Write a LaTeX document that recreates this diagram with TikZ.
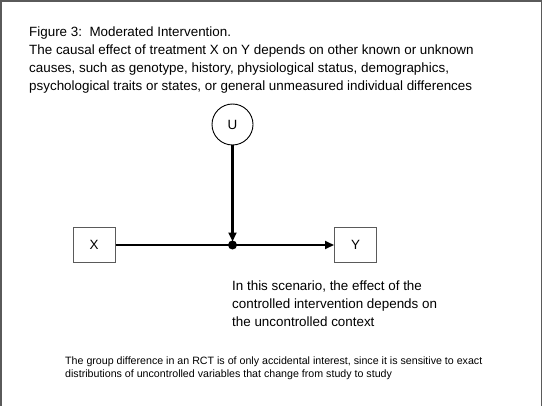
\documentclass[tikz,border=0pt]{standalone}
\usepackage{fontspec}
\setmainfont{Liberation Sans}
\usetikzlibrary{arrows.meta}
\definecolor{frame}{RGB}{90,90,90}
\tikzset{
  txt/.style={anchor=base west, inner sep=0pt, font=\fontsize{13.4}{16}\selectfont},
  smalltxt/.style={anchor=base west, inner sep=0pt, font=\fontsize{10.65}{12}\selectfont},
  var/.style={draw=frame, line width=1pt, minimum width=42pt, minimum height=35pt, inner sep=0pt, font=\fontsize{13.4}{16}\selectfont},
  latent/.style={circle, draw=black, line width=0.9pt, minimum size=41pt, inner sep=0pt, font=\fontsize{13.4}{16}\selectfont},
  link/.style={line width=2.2pt, -{Triangle[length=9pt,width=8pt]}},
}
\begin{document}
\begin{tikzpicture}[x=1pt,y=-1pt]
\useasboundingbox (0,0) rectangle (543,406);
\fill[white] (0,0) rectangle (543,406);
\draw[frame, line width=1.5pt] (1,406) -- (1,1) -- (541.5,1) -- (541.5,406);
% title
\node[txt] (t1) at (29,37) {Figure 3:\ \ Moderated Intervention.};
\node[txt] (t2) at (29,54.7) {The causal effect of treatment X on Y depends on other known or unknown};
\node[txt] (t3) at (29,72.4) {causes, such as genotype, history, physiological status, demographics,};
\node[txt] (t4) at (29,90.1) {psychological traits or states, or general unmeasured individual differences};
% graph
\node[latent] (U) at (232.5,124.5) {U};
\node[var] (X) at (94,244.5) {X};
\node[var] (Y) at (355.5,245) {Y};
\coordinate (m) at (232.5,245);
\fill (m) circle (4.5pt);
\draw[link] (X.east |- m) -- (Y.west |- m);
\draw[link] (U.south) -- ([yshift=3.5pt]m);
% scenario text
\node[txt] (s1) at (232,290.5) {In this scenario, the effect of the};
\node[txt] (s2) at (232,308.5) {controlled intervention depends on};
\node[txt] (s3) at (232,326.5) {the uncontrolled context};
% bottom note
\node[smalltxt] (b1) at (65,364.5) {The group difference in an RCT is of only accidental interest, since it is sensitive to exact};
\node[smalltxt] (b2) at (65,377.5) {distributions of uncontrolled variables that change from study to study};
\end{tikzpicture}
\end{document}
